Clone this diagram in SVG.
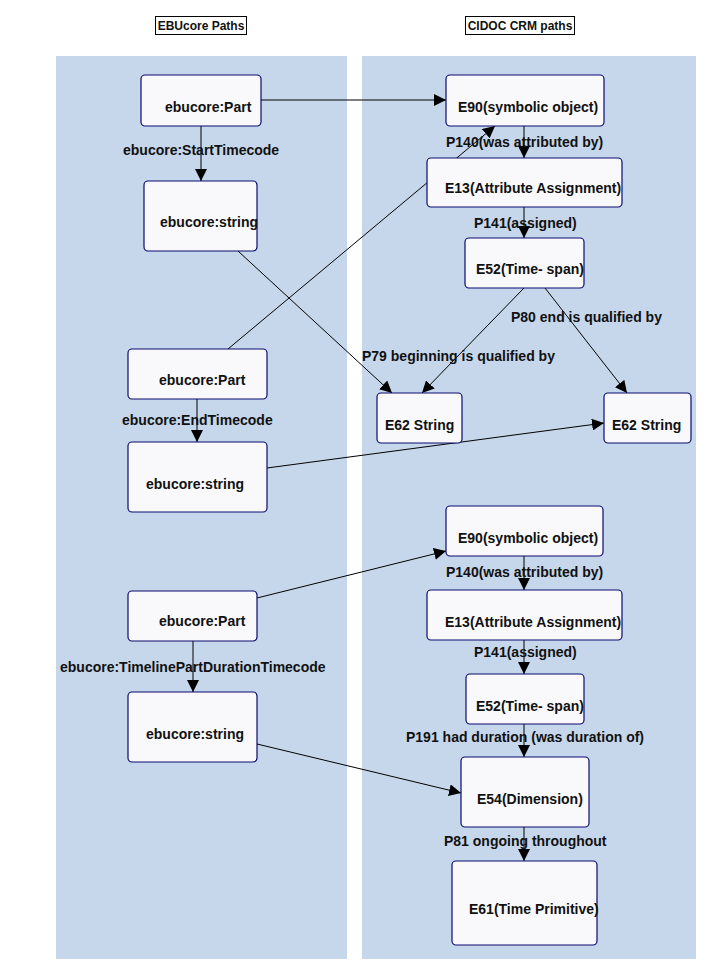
<svg xmlns="http://www.w3.org/2000/svg" width="712" height="975" viewBox="0 0 712 975">
<style>
.panel{fill:#c6d7ec}
.node rect{fill:#f9f9fb;stroke:#0a0a6e;stroke-width:1.2}
text{font-family:"Liberation Sans",Arial,sans-serif;font-weight:bold;fill:#111}
.lbl{font-size:14px}
.nt{font-size:14px}
.title{font-size:12px}
.tbox{fill:#fff;stroke:#000;stroke-width:1}
.conn line{stroke:#000;stroke-width:1;fill:none}
</style>
<defs>
<marker id="arr" markerUnits="userSpaceOnUse" markerWidth="12" markerHeight="12" refX="12" refY="6" orient="auto" viewBox="0 0 12 12">
<path d="M0,0 L12,6 L0,12 z" fill="#000"/>
</marker>
</defs>
<rect width="712" height="975" fill="#fff"/>
<rect class="panel" x="56" y="56" width="291" height="903"/>
<rect class="panel" x="362" y="56" width="334" height="903"/>
<g id="title-ebucore">
<rect class="tbox" x="155.5" y="16.5" width="91" height="18"/>
<text class="title" x="201" y="29.5" text-anchor="middle">EBUcore Paths</text>
</g>
<g id="title-cidoc">
<rect class="tbox" x="465.5" y="16.5" width="109" height="18"/>
<text class="title" x="520" y="29.5" text-anchor="middle">CIDOC CRM paths</text>
</g>
<g class="conn" id="connectors">
<line x1="261" y1="100" x2="446" y2="100" marker-end="url(#arr)"/>
<line x1="201" y1="126" x2="201" y2="181" marker-end="url(#arr)"/>
<line x1="524" y1="126" x2="524" y2="158" marker-end="url(#arr)"/>
<line x1="524" y1="207" x2="524" y2="238" marker-end="url(#arr)"/>
<line x1="524" y1="288" x2="422" y2="393" marker-end="url(#arr)"/>
<line x1="545" y1="288" x2="627" y2="393" marker-end="url(#arr)"/>
<line x1="238" y1="251" x2="392" y2="393" marker-end="url(#arr)"/>
<line x1="228" y1="349" x2="495" y2="126" marker-end="url(#arr)"/>
<line x1="197" y1="399" x2="197" y2="442" marker-end="url(#arr)"/>
<line x1="267" y1="468" x2="604" y2="423" marker-end="url(#arr)"/>
<line x1="257" y1="598" x2="446" y2="551" marker-end="url(#arr)"/>
<line x1="193" y1="641" x2="193" y2="692" marker-end="url(#arr)"/>
<line x1="257" y1="744" x2="461" y2="793" marker-end="url(#arr)"/>
<line x1="524" y1="556" x2="524" y2="590" marker-end="url(#arr)"/>
<line x1="524" y1="640" x2="524" y2="674" marker-end="url(#arr)"/>
<line x1="524" y1="724" x2="524" y2="757" marker-end="url(#arr)"/>
<line x1="524" y1="827" x2="524" y2="861" marker-end="url(#arr)"/>
<text class="lbl" x="123" y="155">ebucore:StartTimecode</text>
<text class="lbl" x="446" y="147">P140(was attributed by)</text>
<text class="lbl" x="474" y="228">P141(assigned)</text>
<text class="lbl" x="511" y="322">P80 end is qualified by</text>
<text class="lbl" x="362" y="361">P79 beginning is qualified by</text>
<text class="lbl" x="122" y="425">ebucore:EndTimecode</text>
<text class="lbl" x="446" y="577">P140(was attributed by)</text>
<text class="lbl" x="474" y="657">P141(assigned)</text>
<text class="lbl" x="60" y="672">ebucore:TimelinePartDurationTimecode</text>
<text class="lbl" x="406" y="742">P191 had duration (was duration of)</text>
<text class="lbl" x="444" y="846">P81 ongoing throughout</text>
</g>
<g class="node" id="n-part1"><rect x="141" y="75" width="120" height="51" rx="4"/><text class="nt" x="165" y="112">ebucore:Part</text></g>
<g class="node" id="n-string1"><rect x="144" y="181" width="113" height="70" rx="4"/><text class="nt" x="160" y="227">ebucore:string</text></g>
<g class="node" id="n-e90a"><rect x="446" y="75" width="158" height="51" rx="4"/><text class="nt" x="458" y="112">E90(symbolic object)</text></g>
<g class="node" id="n-e13a"><rect x="427" y="158" width="195" height="49" rx="4"/><text class="nt" x="445" y="193">E13(Attribute Assignment)</text></g>
<g class="node" id="n-e52a"><rect x="465" y="238" width="119" height="50" rx="4"/><text class="nt" x="476" y="274">E52(Time- span)</text></g>
<g class="node" id="n-e62a"><rect x="377" y="393" width="85" height="50" rx="4"/><text class="nt" x="385" y="430">E62 String</text></g>
<g class="node" id="n-e62b"><rect x="604" y="393" width="87" height="50" rx="4"/><text class="nt" x="612" y="430">E62 String</text></g>
<g class="node" id="n-part2"><rect x="128" y="349" width="139" height="50" rx="4"/><text class="nt" x="159" y="385">ebucore:Part</text></g>
<g class="node" id="n-string2"><rect x="128" y="442" width="139" height="70" rx="4"/><text class="nt" x="146" y="489">ebucore:string</text></g>
<g class="node" id="n-part3"><rect x="128" y="591" width="129" height="50" rx="4"/><text class="nt" x="159" y="626">ebucore:Part</text></g>
<g class="node" id="n-string3"><rect x="128" y="692" width="129" height="70" rx="4"/><text class="nt" x="146" y="739">ebucore:string</text></g>
<g class="node" id="n-e90b"><rect x="446" y="506" width="157" height="50" rx="4"/><text class="nt" x="458" y="543">E90(symbolic object)</text></g>
<g class="node" id="n-e13b"><rect x="427" y="590" width="195" height="50" rx="4"/><text class="nt" x="445" y="627">E13(Attribute Assignment)</text></g>
<g class="node" id="n-e52b"><rect x="466" y="674" width="118" height="50" rx="4"/><text class="nt" x="476" y="711">E52(Time- span)</text></g>
<g class="node" id="n-e54"><rect x="461" y="757" width="128" height="70" rx="4"/><text class="nt" x="477" y="804">E54(Dimension)</text></g>
<g class="node" id="n-e61"><rect x="452" y="861" width="145" height="84" rx="4"/><text class="nt" x="469" y="914">E61(Time Primitive)</text></g>
</svg>
